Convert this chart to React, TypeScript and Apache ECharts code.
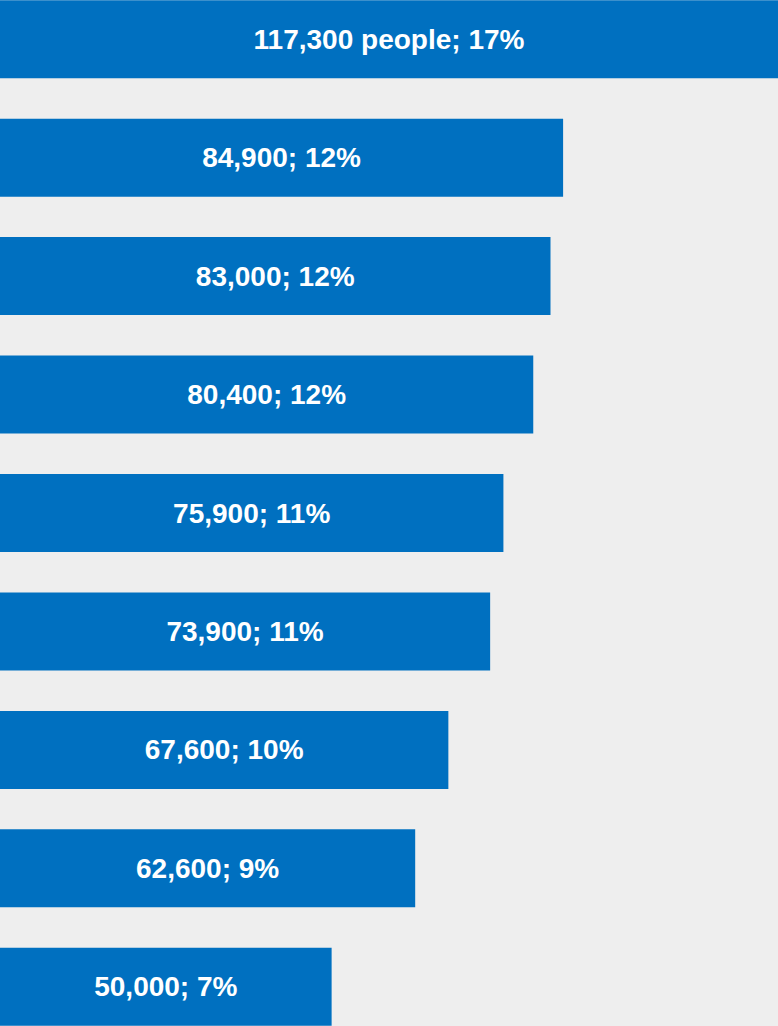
import React, { useEffect, useRef } from "react";
import * as echarts from "echarts";

const categories = ["Group 1", "Group 2", "Group 3", "Group 4", "Group 5", "Group 6", "Group 7", "Group 8", "Group 9"];
const peopleValues = [117300, 84900, 83000, 80400, 75900, 73900, 67600, 62600, 50000];
const shareLabels = ["17%", "12%", "12%", "12%", "11%", "11%", "10%", "9%", "7%"];

export default function App() {
  const ref = useRef<HTMLDivElement>(null);
  useEffect(() => {
    if (!ref.current) return;
    const chart = echarts.init(ref.current, undefined, { renderer: "svg" });
    chart.setOption({
      animation: false,
      backgroundColor: "#EEEEEE",
      grid: { left: 0, right: 0, top: 0, bottom: 0, containLabel: false },
      xAxis: {
        type: "value",
        min: 0,
        max: peopleValues[0],
        show: false,
      },
      yAxis: {
        type: "category",
        data: categories,
        inverse: true,
        show: false,
      },
      series: [
        {
          type: "bar",
          data: peopleValues,
          barWidth: 78,
          itemStyle: { color: "#0070C0" },
          label: {
            show: true,
            position: "inside",
            color: "#FFFFFF",
            fontFamily: "Liberation Sans, Arial, sans-serif",
            fontWeight: "bold",
            fontSize: 28,
            formatter: (p: any) => {
              const v = peopleValues[p.dataIndex].toLocaleString("en-US");
              const suffix = p.dataIndex === 0 ? " people" : "";
              return `${v}${suffix}; ${shareLabels[p.dataIndex]}`;
            },
          },
        },
      ],
    });
    return () => chart.dispose();
  }, []);
  return (
    <div
      ref={ref}
      style={{ position: "fixed", left: 0, top: -20, width: 778, height: 1066 }}
    />
  );
}
